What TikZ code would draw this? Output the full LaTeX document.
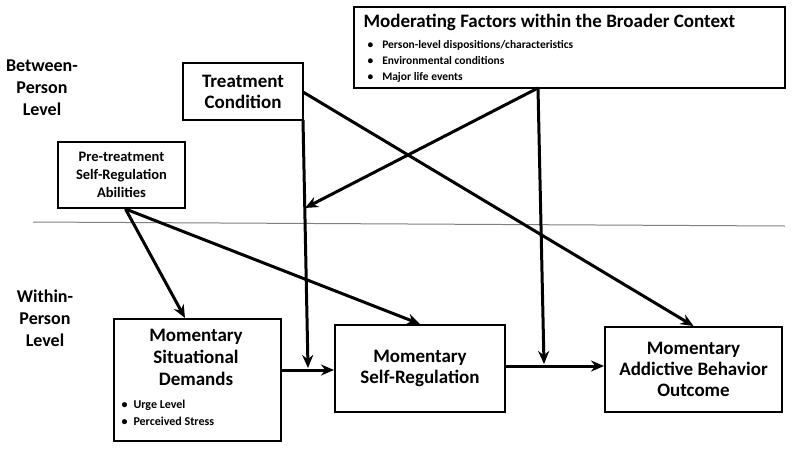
\documentclass[tikz,border=0pt]{standalone}
\usepackage{fontspec}
\setmainfont{Carlito}
\usetikzlibrary{arrows.meta}
\begin{document}
\begin{tikzpicture}[x=1pt, y=-1pt,
    box/.style={rectangle, draw, line width=2pt, align=center, font=\bfseries\fontsize{19}{21}\selectfont, inner sep=2pt},
    level/.style={align=center, font=\bfseries\fontsize{18}{22}\selectfont},
    arrow/.style={-{Stealth[length=13pt, width=11pt]}, line width=3pt}
]
\useasboundingbox (0,0) rectangle (800,448);

% Levels
\node[level] (between) at (42,88) {Between-\\Person\\Level};
\node[level] (within) at (45,318) {Within-\\Person\\Level};
\draw[gray, line width=1pt] (33,222) -- (785,226);

% Between-person boxes
\node[box, minimum width=431pt, minimum height=81pt] (moder) at (569,47.5) {};
\node[font=\bfseries\fontsize{19}{21}\selectfont, anchor=west] (modtitle) at (360,22) {Moderating Factors within the Broader Context};
\node[font=\bfseries\fontsize{11.5}{16}\selectfont, anchor=north west, align=left] (modlist) at (364,37)
  {\textbullet\hspace{9pt}Person-level dispositions/characteristics\\
   \textbullet\hspace{9pt}Environmental conditions\\
   \textbullet\hspace{9pt}Major life events};
\node[box, minimum width=120pt, minimum height=57pt] (treat) at (243,91.5) {Treatment\\Condition};
\node[box, font=\bfseries\fontsize{14.5}{18}\selectfont, minimum width=127pt, minimum height=66pt] (pre) at (121.5,175) {Pre-treatment\\Self-Regulation\\Abilities};

% Within-person boxes
\node[box, minimum width=167pt, minimum height=122pt, anchor=north west] (demand) at (113,318) {};
\node[font=\bfseries\fontsize{19}{22}\selectfont, align=center] (demtext) at (196,357) {Momentary\\Situational\\Demands};
\node[font=\bfseries\fontsize{12}{17}\selectfont, anchor=north west, align=left] (demlist) at (118,397)
  {\textbullet\hspace{6pt}Urge Level\\ \textbullet\hspace{6pt}Perceived Stress};
\node[box, minimum width=170pt, minimum height=87pt] (selfreg) at (420,368.5) {Momentary\\Self-Regulation};
\node[box, minimum width=177pt, minimum height=85pt] (outcome) at (693.5,369.5) {Momentary\\Addictive Behavior\\Outcome};

% Helper points on the horizontal arrows
\coordinate (mid1) at (308,368);
\coordinate (mid2) at (544,364);
\coordinate (treatdown) at (303,120);
\coordinate (treatside) at (303,92);
\coordinate (modbot) at (538,88);
\coordinate (onvert) at (305,208);

% Arrows
\draw[arrow] (demand.east |- 0,370) -- (selfreg.west |- 0,370);
\draw[arrow] (selfreg.east |- 0,366) -- (outcome.west |- 0,366);
\draw[arrow] (treatdown) -- (mid1);
\draw[arrow] (treatside) -- (outcome.north);
\draw[arrow] (modbot) -- (onvert);
\draw[arrow] (modbot) -- (mid2);
\draw[arrow] (pre.south) ++(4,0) coordinate (pres) -- (demand.north -| 185,0);
\draw[arrow] (pres) -- (selfreg.north);
\end{tikzpicture}
\end{document}
